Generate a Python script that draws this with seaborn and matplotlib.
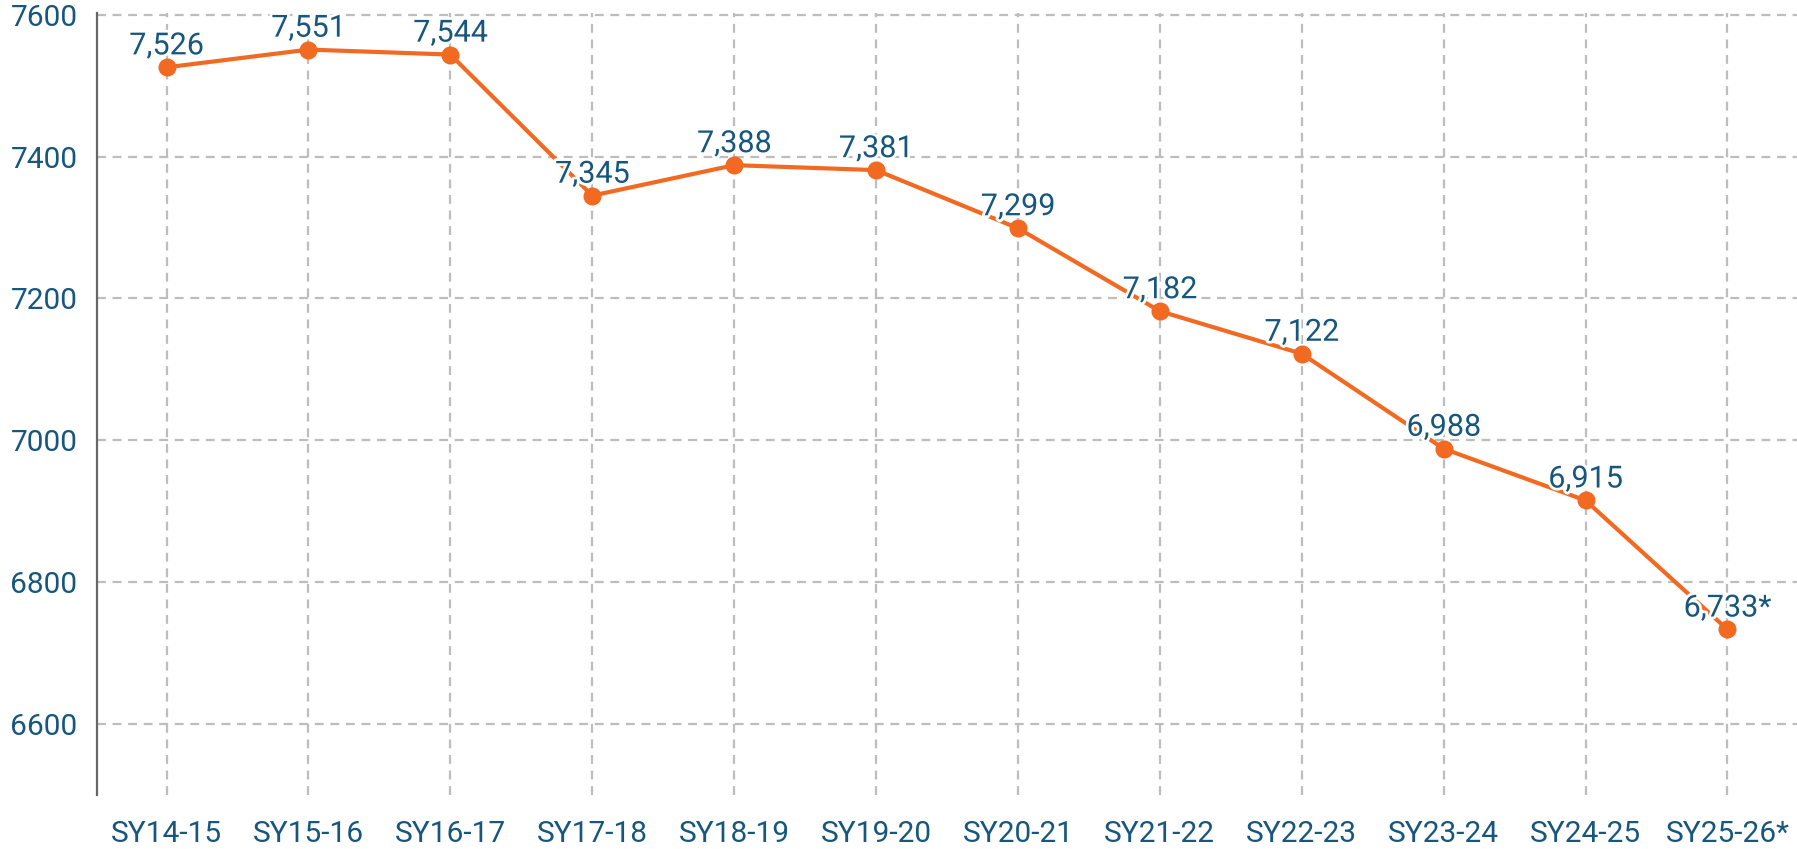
import matplotlib
matplotlib.use("Agg")
import matplotlib.pyplot as plt
import matplotlib.patheffects as pe
import seaborn as sns
import pandas as pd

years = ["SY14-15", "SY15-16", "SY16-17", "SY17-18", "SY18-19", "SY19-20",
         "SY20-21", "SY21-22", "SY22-23", "SY23-24", "SY24-25", "SY25-26*"]
enrollment = [7526, 7551, 7544, 7345, 7388, 7381, 7299, 7182, 7122, 6988, 6915, 6733]
notes = ["", "", "", "", "", "", "", "", "", "", "", "*"]
yticks = [6600, 6800, 7000, 7200, 7400, 7600]

df = pd.DataFrame({"year": years, "count": enrollment})

sns.set_style("white")
plt.rcParams["font.family"] = ["Roboto", "DejaVu Sans"]

text_color = "#17567d"
line_color = "#f26a21"

fig = plt.figure(figsize=(17.97, 8.49), dpi=100)
ax = fig.add_axes([0.054, 0.064, 0.946, 0.921])

sns.lineplot(data=df, x="year", y="count", sort=False, ax=ax,
             color=line_color, linewidth=3, marker="o", markersize=13,
             markeredgewidth=0, zorder=3)

for i, (v, n) in enumerate(zip(enrollment, notes)):
    ax.annotate(f"{v:,}{n}", (i, v), xytext=(0, 5), textcoords="offset points",
                ha="center", va="bottom", fontsize=22, color=text_color, zorder=4,
                path_effects=[pe.withStroke(linewidth=4, foreground="white")])

ax.set_xlim(-0.49, len(years) - 0.51)
ax.set_ylim(6500, 7603)
ax.set_yticks(yticks)
ax.set_xlabel("")
ax.set_ylabel("")

ax.grid(True, axis="both", linestyle=(0, (4, 3)), color="#bdbdbd", linewidth=1.6)
ax.set_axisbelow(True)

for s in ["top", "right", "bottom"]:
    ax.spines[s].set_visible(False)
ax.spines["left"].set_color("#666666")
ax.spines["left"].set_linewidth(1.6)

ax.tick_params(axis="both", length=0, labelsize=21.5, labelcolor=text_color)
ax.tick_params(axis="x", pad=18)
ax.tick_params(axis="y", pad=14)

fig.savefig("out.png", dpi=100)
